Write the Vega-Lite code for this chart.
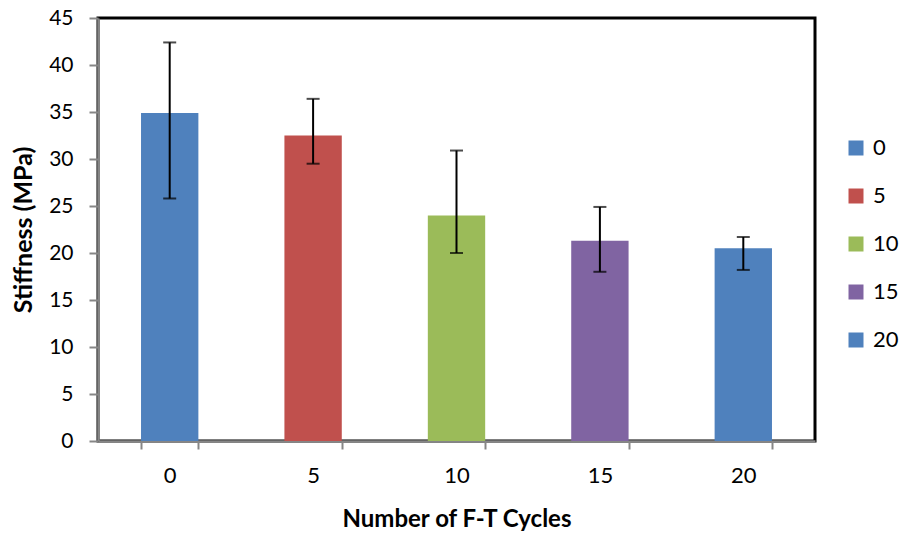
{
  "$schema": "https://vega.github.io/schema/vega-lite/v6.json",
  "width": 717,
  "height": 423,
  "autosize": {"type": "none"},
  "padding": {"left": 98, "top": 18, "right": 84, "bottom": 94},
  "background": "white",
  "config": {
    "font": "Lato",
    "view": {"stroke": "black", "strokeWidth": 3},
    "axis": {"labelFont": "Lato", "titleFont": "Lato", "labelColor": "black", "titleColor": "black", "domainColor": "#868686", "domainWidth": 2.5, "tickColor": "#868686", "tickWidth": 2, "grid": false}
  },
  "data": {
    "values": [
      {"cycles": "0", "stiffness": 34.9, "lo": 25.8, "hi": 42.4},
      {"cycles": "5", "stiffness": 32.5, "lo": 29.5, "hi": 36.4},
      {"cycles": "10", "stiffness": 24.0, "lo": 20.0, "hi": 30.9},
      {"cycles": "15", "stiffness": 21.3, "lo": 18.0, "hi": 24.9},
      {"cycles": "20", "stiffness": 20.5, "lo": 18.2, "hi": 21.7}
    ]
  },
  "encoding": {
    "x": {
      "field": "cycles",
      "type": "nominal",
      "sort": ["0", "5", "10", "15", "20"],
      "scale": {"paddingInner": 0.6, "paddingOuter": 0.3},
      "axis": {"title": "Number of F-T Cycles", "labelAngle": 0, "labelFontSize": 22, "titleFontSize": 24, "titleFontWeight": "bold", "tickBand": "extent", "tickSize": 8, "labelPadding": 16, "titlePadding": 21}
    }
  },
  "layer": [
    {
      "mark": {"type": "bar"},
      "encoding": {
        "y": {
          "field": "stiffness",
          "type": "quantitative",
          "scale": {"domain": [0, 45]},
          "axis": {"title": "Stiffness (MPa)", "values": [0, 5, 10, 15, 20, 25, 30, 35, 40, 45], "labelFontSize": 21, "titleFontSize": 25, "titleFontWeight": "bold", "tickSize": 9, "labelPadding": 16, "titlePadding": 12}
        },
        "color": {
          "field": "cycles",
          "type": "nominal",
          "sort": ["0", "5", "10", "15", "20"],
          "scale": {"domain": ["0", "5", "10", "15", "20"], "range": ["#4F81BD", "#C0504D", "#9BBB59", "#8064A2", "#4F81BD"]},
          "legend": {"title": null, "orient": "none", "legendX": 747, "legendY": 119, "symbolType": "square", "symbolSize": 225, "symbolStrokeWidth": 0, "labelFontSize": 22, "labelFont": "Lato", "labelColor": "black", "rowPadding": 26, "padding": 0, "labelOffset": 6}
        }
      }
    },
    {
      "mark": {"type": "rule", "color": "black", "strokeWidth": 2},
      "encoding": {
        "y": {"field": "lo", "type": "quantitative"},
        "y2": {"field": "hi"}
      }
    },
    {
      "mark": {"type": "tick", "color": "black", "thickness": 2, "size": 13, "orient": "horizontal"},
      "encoding": {"y": {"field": "lo", "type": "quantitative"}}
    },
    {
      "mark": {"type": "tick", "color": "black", "thickness": 2, "size": 13, "orient": "horizontal"},
      "encoding": {"y": {"field": "hi", "type": "quantitative"}}
    }
  ]
}
